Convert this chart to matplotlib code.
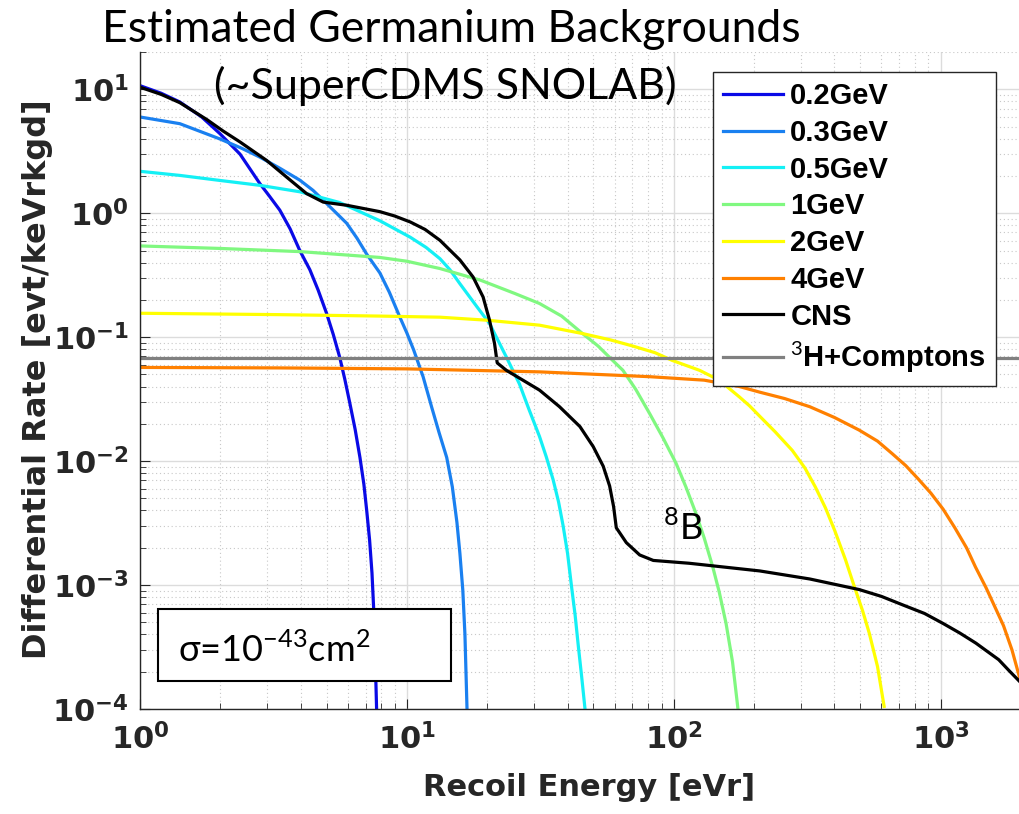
import math
import matplotlib
matplotlib.use("Agg")
import matplotlib.pyplot as plt
from matplotlib.patches import Rectangle
from matplotlib.ticker import LogLocator, FuncFormatter, NullFormatter

plt.rcParams['mathtext.fontset'] = 'custom'
plt.rcParams['mathtext.rm'] = 'Lato'
plt.rcParams['mathtext.bf'] = 'DejaVu Sans:bold'

# Recoil energy [eVr] and differential rate [evt/keVr/kg/d] for each curve
e_02 = [1, 1.2, 1.41, 1.7, 1.99, 2.37, 2.81, 3.05, 3.34, 3.65, 3.97, 4.33,
        4.65, 5.0, 5.3, 5.6, 5.85, 6.1, 6.4, 6.67, 6.9, 7.07, 7.25, 7.4,
        7.55, 7.7]
r_02 = [10.7, 9.3, 7.9, 6.0, 4.4, 3.0, 1.74, 1.38, 1.06, 0.75, 0.50, 0.35,
        0.24, 0.156, 0.105, 0.069, 0.046, 0.030, 0.018, 0.0107, 0.0065,
        0.0040, 0.0023, 0.00125, 5e-4, 1e-4]

e_03 = [1, 1.41, 1.99, 2.4, 2.81, 3.35, 3.97, 4.45, 5.0, 5.95, 6.5, 7.06,
        7.92, 8.6, 9.4, 10.0, 10.6, 11.5, 12.4, 13.2, 14.1, 14.8, 15.4, 15.8,
        16.2, 16.5, 16.8]
r_03 = [5.98, 5.28, 3.98, 3.35, 2.84, 2.3, 1.85, 1.53, 1.2, 0.83, 0.63, 0.47,
        0.33, 0.23, 0.146, 0.108, 0.079, 0.048, 0.027, 0.017, 0.0107, 0.0062,
        0.0032, 0.0018, 9.1e-4, 4e-4, 1e-4]

e_05 = [1, 1.41, 1.99, 2.81, 3.97, 5.6, 7.92, 10.3, 11.8, 13.3, 14.5, 15.8,
        18.3, 20.4, 23.6, 26.4, 28.7, 31.4, 33.3, 35.3, 37, 38.5, 40, 41.4,
        42.7, 43.9, 45.2, 46.5]
r_05 = [2.18, 2.02, 1.84, 1.68, 1.49, 1.22, 0.87, 0.64, 0.53, 0.43, 0.35,
        0.27, 0.176, 0.129, 0.069, 0.042, 0.026, 0.0158, 0.0108, 0.0071,
        0.0047, 0.0030, 0.0018, 9.7e-4, 5.7e-4, 3.2e-4, 1.8e-4, 1e-4]

e_1 = [1, 2, 4, 7.92, 10, 13.3, 18.9, 25.4, 31.4, 38, 45.5, 52, 59, 64.5, 72,
       81.2, 91, 102, 111, 121, 130, 140, 148, 157, 166, 174]
r_1 = [0.545, 0.52, 0.49, 0.44, 0.41, 0.358, 0.288, 0.225, 0.187, 0.148,
       0.107, 0.085, 0.065, 0.054, 0.038, 0.0242, 0.0155, 0.0096, 0.0062,
       0.0038, 0.0024, 0.0014, 8.8e-4, 4.9e-4, 2.4e-4, 1e-4]

e_2 = [1, 3.34, 7.92, 13.3, 20, 31.4, 45.5, 58, 70, 85, 98.6, 125, 148, 176,
       192, 210, 240, 278, 310, 339, 370, 401, 440, 475, 510, 540, 580, 614]
r_2 = [0.156, 0.152, 0.148, 0.145, 0.137, 0.125, 0.107, 0.095, 0.085, 0.075,
       0.065, 0.054, 0.045, 0.033, 0.028, 0.023, 0.0172, 0.0122, 0.0088,
       0.0062, 0.0042, 0.00275, 0.0016, 9.7e-4, 6.2e-4, 4.1e-4, 2.2e-4,
       1.05e-4]

e_4 = [1, 3.34, 10, 31.4, 81.2, 130, 176, 210, 260, 323, 400, 495, 580, 658,
       740, 828, 920, 1021, 1130, 1250, 1350, 1480, 1600, 1720, 1850, 1975]
r_4 = [0.057, 0.0565, 0.0555, 0.0525, 0.048, 0.045, 0.040, 0.036, 0.032,
       0.0275, 0.0225, 0.0178, 0.0145, 0.0115, 0.0092, 0.0071, 0.0055,
       0.0041, 0.0029, 0.0020, 0.0014, 9.5e-4, 6.6e-4, 4.7e-4, 3e-4, 1.8e-4]

e_cns = [1, 1.2, 1.41, 1.78, 2.05, 2.37, 2.98, 3.54, 4.21, 4.86, 5.95, 7.92,
         9, 10.3, 11.7, 13.3, 15.8, 17.7, 19.3, 20.4, 21.3, 21.8, 23.6, 27.2,
         31.4, 37.3, 44.5, 49.9, 54.4, 57.5, 59.5, 60.9, 66.4, 74.5, 83.8,
         114, 153, 210, 323, 495, 600, 723, 870, 1021, 1180, 1355, 1500,
         1650, 1800, 1975]
r_cns = [10.4, 9.1, 7.8, 5.7, 4.6, 3.76, 2.67, 1.96, 1.44, 1.23, 1.16, 1.03,
         0.95, 0.85, 0.74, 0.605, 0.42, 0.306, 0.211, 0.137, 0.089, 0.062,
         0.054, 0.045, 0.0374, 0.0275, 0.019, 0.0131, 0.0091, 0.0063, 0.0043,
         0.0029, 0.0022, 0.00175, 0.00158, 0.0015, 0.0014, 0.0013, 0.00112,
         9.2e-4, 8.1e-4, 6.9e-4, 5.9e-4, 4.9e-4, 4.1e-4, 3.4e-4, 2.9e-4,
         2.5e-4, 2.05e-4, 1.67e-4]

e_bkg = [1, 2000]
r_bkg = [0.068, 0.068]

curves = [
    (e_02, r_02, '#0a0ae6', '0.2GeV'),
    (e_03, r_03, '#1a80f0', '0.3GeV'),
    (e_05, r_05, '#14f0f5', '0.5GeV'),
    (e_1, r_1, '#80f880', '1GeV'),
    (e_2, r_2, '#ffff00', '2GeV'),
    (e_4, r_4, '#ff8000', '4GeV'),
    (e_cns, r_cns, 'black', 'CNS'),
    (e_bkg, r_bkg, '#808080', r'$^{\mathrm{3}}$H+Comptons'),
]

fig = plt.figure(figsize=(10.19, 8.14), dpi=100)
ax = fig.add_axes([140 / 1019, 1 - 709 / 814, 881 / 1019, 657 / 814])

for e, r, col, lab in curves:
    ax.plot(e, r, color=col, lw=2.3, label=lab, solid_joinstyle='round')

ax.set_xscale('log')
ax.set_yscale('log')
ax.set_xlim(1, 2000)
ax.set_ylim(1e-4, 20)

ax.xaxis.set_major_locator(LogLocator(base=10, numticks=10))
ax.yaxis.set_major_locator(LogLocator(base=10, numticks=10))
ax.xaxis.set_minor_locator(LogLocator(base=10, subs=range(2, 10), numticks=30))
ax.yaxis.set_minor_locator(LogLocator(base=10, subs=range(2, 10), numticks=30))
fmt = FuncFormatter(lambda v, p: r'$\mathbf{10^{%d}}$' % round(math.log10(v)))
ax.xaxis.set_major_formatter(fmt)
ax.yaxis.set_major_formatter(fmt)
ax.xaxis.set_minor_formatter(NullFormatter())
ax.yaxis.set_minor_formatter(NullFormatter())

ax.grid(True, which='major', color='#dcdcdc', lw=1.0, ls='-')
ax.grid(True, which='minor', color='#c8c8c8', lw=0.8, ls=(0, (1, 2.5)))
ax.set_axisbelow(True)

for side in ('top', 'right'):
    ax.spines[side].set_visible(False)
for side in ('left', 'bottom'):
    ax.spines[side].set_color('#262626')
    ax.spines[side].set_linewidth(1.0)

ax.tick_params(which='both', direction='in', colors='#262626', labelsize=22)
ax.tick_params(which='major', length=7)
ax.tick_params(which='minor', length=4)
ax.tick_params(axis='y', pad=8)
ax.tick_params(axis='x', pad=10)

fig.text(38 / 1019, 1 - 379 / 814, 'Differential Rate [evt/keVrkgd]',
         rotation=90, ha='center', va='center', fontsize=23,
         fontweight='bold', color='#262626')
fig.text(589 / 1019, 1 - 788 / 814, 'Recoil Energy [eVr]', ha='center',
         va='center', fontsize=22, fontweight='bold', color='#262626')

fig.text(451 / 1019, 1 - 29 / 814, 'Estimated Germanium Backgrounds',
         ha='center', va='center', fontsize=32, family='Lato')
fig.text(445 / 1019, 1 - 86 / 814, '(~SuperCDMS SNOLAB)',
         ha='center', va='center', fontsize=31, family='Lato')

leg = ax.legend(loc='upper left', bbox_to_anchor=(713 / 1019, 1 - 72 / 814),
                bbox_transform=fig.transFigure, borderaxespad=0,
                fancybox=False, edgecolor='#262626', framealpha=1,
                handlelength=2.05, handletextpad=0.25, labelspacing=0.3,
                borderpad=0.35,
                prop={'family': 'Liberation Sans', 'weight': 'bold',
                      'size': 21})
leg.get_frame().set_linewidth(1.0)

# cross-section box
fig.patches.append(Rectangle((158 / 1019, 1 - 681 / 814), 293 / 1019,
                             72 / 814, transform=fig.transFigure,
                             facecolor='white', edgecolor='black', lw=1.5,
                             zorder=5))
fig.text(178 / 1019, 1 - 650 / 814, r'σ=10$^{\mathrm{-43}}$cm$^{\mathrm{2}}$',
         ha='left', va='center', fontsize=26, family='Lato', zorder=6)

ax.text(91, 2.9e-3, r'$^{\mathrm{8}}$B', fontsize=26, family='Lato',
        ha='left', va='center')

fig.savefig('out.png', dpi=100)
